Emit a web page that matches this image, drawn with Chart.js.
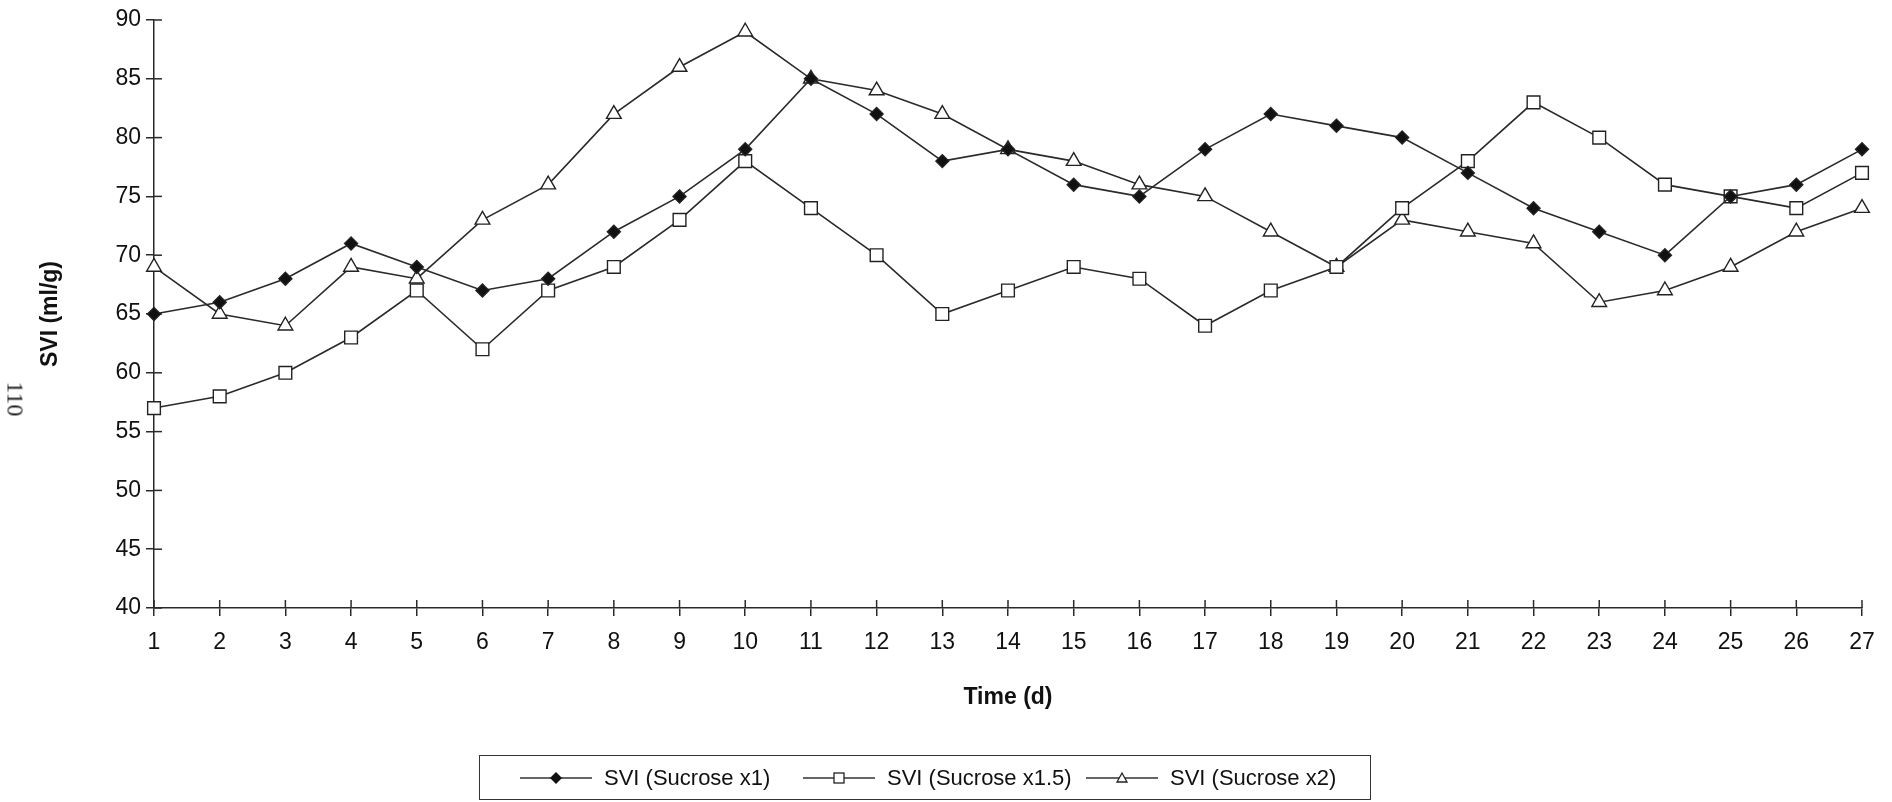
<!DOCTYPE html>
<html lang="en">

<head>
    <meta charset="UTF-8">
    <title>SVI vs time</title>
    <script src="https://cdn.jsdelivr.net/npm/chart.js"></script>
    <style>
        body { margin: 0; background: #fff; font-family: "Liberation Sans", Arial, sans-serif; color: #111; }
        .wrap { position: relative; width: 1892px; height: 802px; overflow: hidden; }
        .page-no { position: absolute; left: 15px; top: 399px; transform: translate(-50%, -50%) rotate(90deg);
            font-family: "Liberation Serif", serif; font-size: 24px; color: #222; }
        .legend { position: absolute; left: 479px; top: 755px; width: 892px; height: 45px;
            border: 1.5px solid #333; box-sizing: border-box; }
        .legend .item { position: absolute; top: 0; height: 100%; display: flex; align-items: center; font-size: 22px; }
        .legend svg { margin-right: 12px; }
    </style>
</head>

<body>
    <div class="wrap">
        <canvas id="sviChart" width="1892" height="802"></canvas>
        <div class="page-no">110</div>
        <div class="legend" id="legend"></div>
    </div>

    <script>
        // data
        const days = ['1', '2', '3', '4', '5', '6', '7', '8', '9', '10', '11', '12', '13', '14',
            '15', '16', '17', '18', '19', '20', '21', '22', '23', '24', '25', '26', '27'];
        const sviSucrose1 = [65, 66, 68, 71, 69, 67, 68, 72, 75, 79, 85, 82, 78, 79,
            76, 75, 79, 82, 81, 80, 77, 74, 72, 70, 75, 76, 79];
        const sviSucrose15 = [57, 58, 60, 63, 67, 62, 67, 69, 73, 78, 74, 70, 65, 67,
            69, 68, 64, 67, 69, 74, 78, 83, 80, 76, 75, 74, 77];
        const sviSucrose2 = [69, 65, 64, 69, 68, 73, 76, 82, 86, 89, 85, 84, 82, 79,
            78, 76, 75, 72, 69, 73, 72, 71, 66, 67, 69, 72, 74];
        const seriesNames = ['SVI (Sucrose x1)', 'SVI (Sucrose x1.5)', 'SVI (Sucrose x2)'];
        const yMin = 40, yMax = 90, yStep = 5;

        const lineColor = '#2a2a2a';
        const fontFamily = '"Liberation Sans", Arial, sans-serif';

        // ticks in the original cross the axis line, so draw the inner half too
        const crossTicks = {
            id: 'crossTicks',
            beforeDatasetsDraw(chart) {
                const { ctx, scales: { x, y } } = chart;
                ctx.save();
                ctx.strokeStyle = lineColor;
                ctx.lineWidth = 1.5;
                x.ticks.forEach((t, i) => {
                    const px = x.getPixelForTick(i);
                    ctx.beginPath(); ctx.moveTo(px, x.top); ctx.lineTo(px, x.top - 8); ctx.stroke();
                });
                y.ticks.forEach((t, i) => {
                    const py = y.getPixelForTick(i);
                    ctx.beginPath(); ctx.moveTo(y.right, py); ctx.lineTo(y.right + 8, py); ctx.stroke();
                });
                ctx.restore();
            }
        };

        const markers = [
            { style: 'rectRot', radius: 6.5, fill: '#111' },
            { style: 'rect', radius: 9, fill: '#fff' },
            { style: 'triangle', radius: 8.5, fill: '#fff' }
        ];
        const values = [sviSucrose1, sviSucrose15, sviSucrose2];

        const datasets = values.map((v, i) => ({
            label: seriesNames[i],
            data: v,
            borderColor: lineColor,
            borderWidth: 1.6,
            tension: 0,
            pointStyle: markers[i].style,
            pointRadius: markers[i].radius,
            pointBackgroundColor: markers[i].fill,
            pointBorderColor: '#222',
            pointBorderWidth: 1.4
        }));

        new Chart(document.getElementById('sviChart'), {
            type: 'line',
            data: { labels: days, datasets: datasets },
            options: {
                responsive: false,
                animation: false,
                layout: { padding: { top: 20, right: 30, left: 0, bottom: 0 } },
                plugins: { legend: { display: false }, tooltip: { enabled: false } },
                scales: {
                    x: {
                        offset: false,
                        afterFit: (s) => { s.height = 194; },
                        grid: { drawOnChartArea: false, drawTicks: true, tickLength: 8, color: lineColor, lineWidth: 1.5 },
                        border: { color: lineColor, width: 1.5 },
                        ticks: { color: '#111', padding: 13, maxRotation: 0, autoSkip: false, font: { family: fontFamily, size: 23 } },
                        title: { display: true, text: 'Time (d)', color: '#111', padding: { top: 0, bottom: 91 },
                            font: { family: fontFamily, size: 23, weight: 'bold' } }
                    },
                    y: {
                        min: yMin,
                        max: yMax,
                        afterFit: (s) => { s.width = 154; },
                        grid: { drawOnChartArea: false, drawTicks: true, tickLength: 8, color: lineColor, lineWidth: 1.5 },
                        border: { color: lineColor, width: 1.5 },
                        ticks: { stepSize: yStep, color: '#111', padding: 5, font: { family: fontFamily, size: 23 } },
                        title: { display: true, text: 'SVI (ml/g)', color: '#111', padding: { top: 37, bottom: 0 },
                            font: { family: fontFamily, size: 23, weight: 'bold' } }
                    }
                }
            },
            plugins: [crossTicks]
        });

        // legend in a box, like the original
        const legend = document.getElementById('legend');
        const svgMarker = [
            '<polygon points="36,5 42,11 36,17 30,11" fill="#111"/>',
            '<rect x="31" y="6" width="10" height="10" fill="#fff" stroke="#222" stroke-width="1.3"/>',
            '<polygon points="36,6 41,15 31,15" fill="#fff" stroke="#222" stroke-width="1.3"/>'
        ];
        seriesNames.forEach((name, i) => {
            const item = document.createElement('div');
            item.className = 'item';
            item.style.left = (40 + i * 283) + 'px';
            item.innerHTML = '<svg width="72" height="22"><line x1="0" y1="11" x2="72" y2="11" stroke="#333" stroke-width="1.5"/>' +
                svgMarker[i] + '</svg><span>' + name + '</span>';
            legend.appendChild(item);
        });
    </script>

</body>

</html>
